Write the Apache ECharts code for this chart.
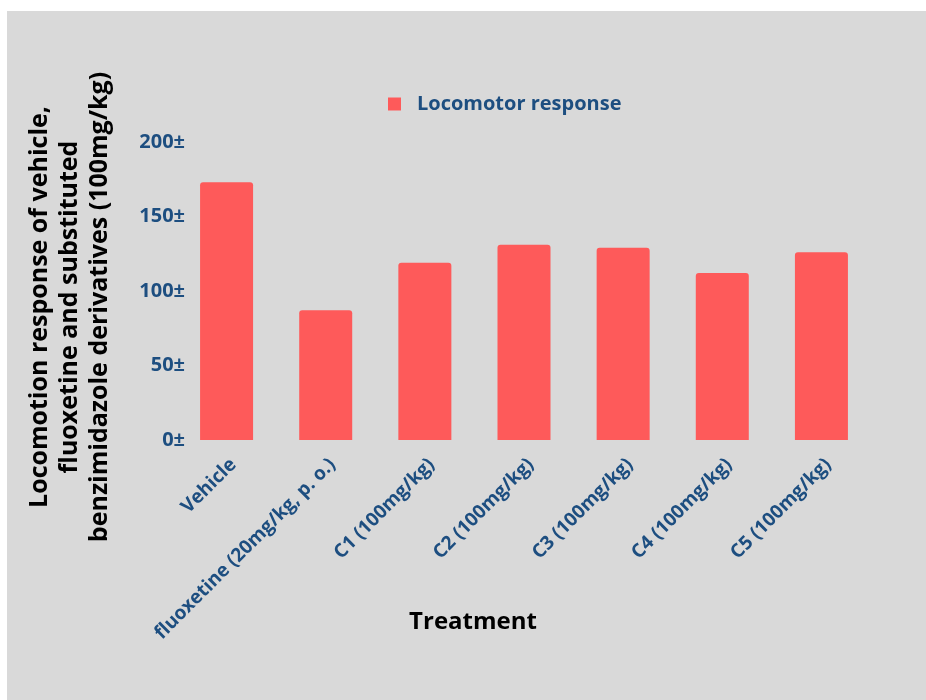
<!DOCTYPE html>
<html>
<head>
<meta charset="utf-8">
<script src="https://cdn.jsdelivr.net/npm/echarts@6/dist/echarts.min.js"></script>
<style>
  html, body { margin: 0; padding: 0; background: #ffffff; }
  #chart { width: 926px; height: 700px; }
</style>
</head>
<body>
<div id="chart"></div>
<script>
// data
var categories = ['Vehicle', 'fluoxetine (20mg/kg, p. o.)', 'C1 (100mg/kg)', 'C2 (100mg/kg)',
  'C3 (100mg/kg)', 'C4 (100mg/kg)', 'C5 (100mg/kg)'];
var locomotor = [173, 87, 119, 131, 129, 112, 126];
var yTickValues = [0, 50, 100, 150, 200];
var yTickLabels = ['0±', '50±', '100±', '150±', '200±'];

var blue = '#1d4e80';
var barColor = '#fe5a5a';
var font = "'Open Sans', sans-serif";

var myChart = echarts.init(document.getElementById('chart'));

var option = {
  backgroundColor: '#ffffff',
  animation: false,
  graphic: [
    {
      type: 'rect',
      z: -10,
      shape: { x: 7, y: 11, width: 919, height: 689 },
      style: { fill: '#d9d9d9' }
    },
    {
      type: 'text',
      x: 70,
      y: 307,
      rotation: Math.PI / 2,
      style: {
        text: 'Locomotion response of vehicle,\nfluoxetine and substituted\nbenzimidazole derivatives (100mg/kg)',
        fill: '#000000',
        font: "bold 25px 'Open Sans', sans-serif",
        lineHeight: 30,
        align: 'center',
        verticalAlign: 'middle'
      }
    },
    {
      type: 'text',
      x: 473,
      y: 622,
      style: {
        text: 'Treatment',
        fill: '#000000',
        font: "bold 24px 'Open Sans', sans-serif",
        align: 'center',
        verticalAlign: 'middle'
      }
    }
  ],
  legend: {
    left: 383,
    top: 89,
    itemWidth: 13,
    itemHeight: 13,
    icon: 'rect',
    data: ['Locomotor response'],
    textStyle: {
      color: blue,
      fontFamily: font,
      fontWeight: 'bold',
      fontSize: 20,
      padding: [0, 0, 0, 11]
    }
  },
  grid: {
    left: 177,
    right: 55,
    top: 142,
    bottom: 260
  },
  xAxis: {
    type: 'category',
    data: categories,
    axisLine: { show: false },
    axisTick: { show: false },
    axisLabel: {
      rotate: 45,
      margin: 15,
      interval: 0,
      verticalAlign: 'top',
      color: blue,
      fontFamily: font,
      fontWeight: 'bold',
      fontSize: 19
    }
  },
  yAxis: {
    type: 'value',
    min: 0,
    max: 200,
    interval: 50,
    axisLine: { show: false },
    axisTick: { show: false },
    splitLine: { show: false },
    axisLabel: {
      margin: -8,
      color: blue,
      fontFamily: font,
      fontWeight: 'bold',
      fontSize: 20,
      formatter: function (v) {
        var i = yTickValues.indexOf(v);
        return i >= 0 ? yTickLabels[i] : '';
      }
    }
  },
  series: [{
    name: 'Locomotor response',
    type: 'bar',
    data: locomotor,
    barWidth: 53,
    itemStyle: { color: barColor, borderRadius: [3, 3, 0, 0] }
  }]
};

myChart.setOption(option);
</script>
</body>
</html>
